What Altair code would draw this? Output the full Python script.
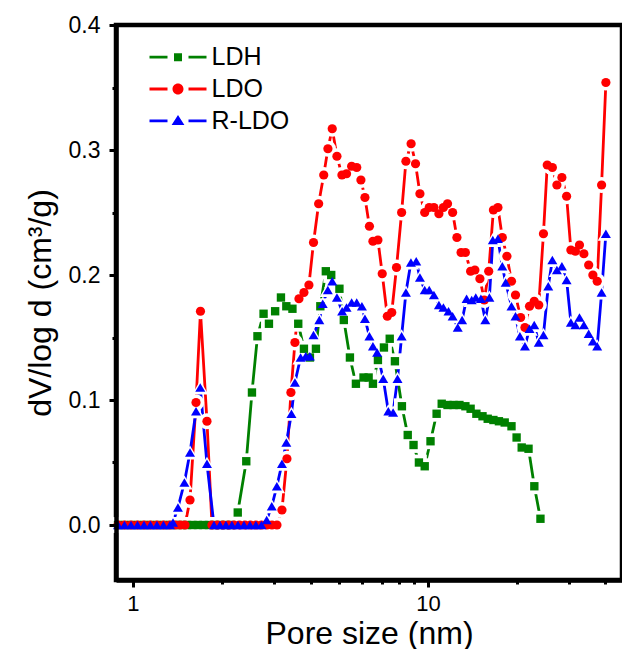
import altair as alt
import pandas as pd

series_names = ["LDH", "LDO", "R-LDO"]
series_colors = ["#008000", "#ff0000", "#0000ff"]
marker_shapes = ["square", "circle", "triangle-up"]

x_ticks = [1, 2, 3, 4, 5, 6, 7, 8, 9, 10, 20, 30, 40]
y_ticks = [0.0, 0.05, 0.1, 0.15, 0.2, 0.25, 0.3, 0.35, 0.4]

ldh_x = [0.890, 0.936, 0.985, 1.036, 1.090, 1.146, 1.206, 1.269, 1.335, 1.399, 1.460, 1.525,
         1.591, 1.661, 1.734, 1.810, 1.889, 1.972, 2.059, 2.149, 2.266, 2.422, 2.532, 2.643,
         2.772, 2.891, 3.034, 3.175, 3.311, 3.473, 3.634, 3.799, 3.981, 4.172, 4.318, 4.507,
         4.701, 5.012, 5.187, 5.440, 5.700, 6.049, 6.295, 6.510, 6.769, 7.094, 7.422, 7.729,
         8.163, 8.542, 8.938, 9.322, 9.753, 10.205, 10.703, 11.137, 11.654, 12.222, 12.788,
         13.399, 13.956, 14.598, 15.314, 15.948, 16.674, 17.406, 18.210, 19.203, 19.984,
         20.795, 21.933, 22.95, 24.074]
ldh_y = [0, 0, 0, 0, 0, 0, 0, 0, 0, 0, 0, 0,
         0, 0, 0, 0, 0, 0, 0, 0, 0.010, 0.051, 0.106, 0.151,
         0.169, 0.161, 0.171, 0.182, 0.175, 0.173, 0.161, 0.141, 0.134, 0.141, 0.175, 0.203,
         0.200, 0.189, 0.164, 0.134, 0.113, 0.118, 0.118, 0.113, 0.132, 0.142, 0.149, 0.131,
         0.095, 0.072, 0.064, 0.050, 0.047, 0.067, 0.089, 0.097, 0.096, 0.096, 0.096,
         0.095, 0.093, 0.089, 0.087, 0.085, 0.084, 0.083, 0.082, 0.079, 0.070,
         0.062, 0.061, 0.031, 0.005]

ldo_x = [0.890, 0.936, 0.985, 1.036, 1.090, 1.146, 1.206, 1.269, 1.335, 1.394, 1.449, 1.501,
         1.561, 1.636, 1.694, 1.782, 1.853, 1.934, 2.019, 2.108, 2.200, 2.297, 2.397, 2.502,
         2.612, 2.727, 2.846, 2.960, 3.077, 3.200, 3.327, 3.432, 3.541, 3.654, 3.799, 3.950,
         4.094, 4.261, 4.434, 4.581, 4.738, 4.915, 5.111, 5.298, 5.513, 5.736, 5.927, 6.116,
         6.334, 6.510, 6.769, 7.000, 7.284, 7.539, 7.826, 8.144, 8.422, 8.771, 9.078, 9.395,
         9.753, 10.102, 10.480, 10.896, 11.286, 11.654, 12.127, 12.541, 12.957, 13.399,
         13.956, 14.428, 15.006, 15.531, 16.073, 16.674, 17.271, 17.872, 18.526, 19.203,
         19.813, 20.618, 21.326, 22.105, 22.931, 23.757, 24.644, 25.386, 26.416, 27.37,
         28.46, 29.525, 30.53, 31.623, 32.65, 33.79, 35.08, 36.25, 37.49, 38.80, 40.12]
ldo_y = [0, 0, 0, 0, 0, 0, 0, 0, 0, 0, 0, 0,
         0.020, 0.098, 0.171, 0.083, 0, 0, 0, 0, 0, 0, 0, 0,
         0, 0, 0, 0, 0, 0.012, 0.053, 0.106, 0.146, 0.181, 0.186, 0.192,
         0.226, 0.257, 0.280, 0.301, 0.317, 0.295, 0.280, 0.281, 0.287, 0.286, 0.276, 0.262,
         0.239, 0.227, 0.228, 0.201, 0.167, 0.170, 0.206, 0.250, 0.291, 0.305, 0.289, 0.265,
         0.250, 0.254, 0.254, 0.249, 0.254, 0.257, 0.250, 0.230, 0.218, 0.218,
         0.203, 0.204, 0.197, 0.180, 0.203, 0.252, 0.254, 0.230, 0.215, 0.195,
         0.184, 0.166, 0.158, 0.175, 0.179, 0.176, 0.233, 0.288, 0.286, 0.272,
         0.278, 0.263, 0.220, 0.219, 0.224, 0.217, 0.208, 0.200, 0.195, 0.272, 0.354]

rldo_x = [0.890, 0.936, 0.985, 1.036, 1.090, 1.146, 1.206, 1.269, 1.335, 1.367, 1.421, 1.494,
          1.561, 1.636, 1.691, 1.782, 1.882, 1.972, 2.067, 2.166, 2.270, 2.379, 2.493, 2.612,
          2.727, 2.840, 2.955, 3.075, 3.200, 3.311, 3.446, 3.541, 3.702, 3.853, 3.978, 4.094,
          4.284, 4.399, 4.578, 4.738, 4.915, 5.119, 5.298, 5.513, 5.736, 5.974, 6.116, 6.334,
          6.510, 6.727, 7.055, 7.341, 7.621, 7.888, 8.144, 8.422, 8.757, 9.128, 9.395, 9.753,
          10.102, 10.480, 10.896, 11.286, 11.745, 12.127, 12.620, 13.058, 13.525, 14.076,
          14.530, 15.124, 15.652, 16.161, 16.596, 17.271, 17.872, 18.353, 19.203, 19.813,
          20.505, 21.326, 22.105, 22.931, 23.757, 24.644, 25.585, 26.416, 27.37, 28.46,
          29.525, 30.53, 31.623, 32.65, 33.79, 35.08, 36.25, 37.49, 38.80, 40.12]
rldo_y = [0, 0, 0, 0, 0, 0, 0, 0, 0, 0.002, 0.014, 0.034,
          0.058, 0.091, 0.110, 0.049, 0, 0, 0, 0, 0, 0, 0, 0,
          0, 0.004, 0.015, 0.031, 0.049, 0.066, 0.089, 0.114, 0.134, 0.135, 0.135, 0.152,
          0.164, 0.177, 0.188, 0.195, 0.182, 0.171, 0.174, 0.178, 0.178, 0.175, 0.165, 0.151,
          0.143, 0.138, 0.117, 0.091, 0.090, 0.117, 0.151, 0.186, 0.210, 0.211, 0.198, 0.188,
          0.188, 0.184, 0.176, 0.174, 0.171, 0.167, 0.158, 0.164, 0.181, 0.180,
          0.182, 0.181, 0.164, 0.182, 0.228, 0.229, 0.207, 0.194, 0.175, 0.167,
          0.151, 0.143, 0.157, 0.160, 0.146, 0.152, 0.191, 0.212, 0.204, 0.207,
          0.196, 0.162, 0.160, 0.166, 0.160, 0.153, 0.147, 0.143, 0.186, 0.233]

rows = []
for name, xs, ys in zip(series_names, [ldh_x, ldo_x, rldo_x], [ldh_y, ldo_y, rldo_y]):
    for i, (a, b) in enumerate(zip(xs, ys)):
        rows.append({"series": name, "pore": a, "dv": b, "idx": i})
df = pd.DataFrame(rows)

FONT = "Liberation Sans"

x_enc = alt.X(
    "pore:Q",
    title="Pore size (nm)",
    scale=alt.Scale(type="log", domain=[0.876, 45.5], nice=False),
    axis=alt.Axis(
        values=x_ticks,
        labelExpr="(datum.value == 1 || datum.value == 10) ? format(datum.value, 'd') : ''",
        tickSize={"condition": {"test": "datum.value == 1 || datum.value == 10", "value": 7}, "value": 4},
        tickWidth=3, tickColor="black", domainColor="black", domainWidth=4.5, grid=False,
        labelFont=FONT, labelFontSize=22, labelColor="black", labelPadding=6,
        labelOverlap=False, labelFlush=False,
        titleFont=FONT, titleFontSize=32, titleFontWeight="normal", titleColor="black",
        titlePadding=4, zindex=2,
    ),
)
y_enc = alt.Y(
    "dv:Q",
    title="dV/log d (cm³/g)",
    scale=alt.Scale(domain=[-0.044, 0.4], nice=False, zero=False),
    axis=alt.Axis(
        values=y_ticks,
        labelExpr="abs(datum.value*10 - round(datum.value*10)) < 0.001 ? format(datum.value, '.1f') : ''",
        tickSize={"condition": {"test": "abs(datum.value*10 - round(datum.value*10)) < 0.001", "value": 7}, "value": 4},
        tickWidth=3, tickColor="black", domainColor="black", domainWidth=4.5, grid=False,
        labelFont=FONT, labelFontSize=23, labelColor="black", labelPadding=9,
        labelOverlap=False, labelFlush=False,
        titleFont=FONT, titleFontSize=32, titleFontWeight="normal", titleColor="black",
        titlePadding=11, zindex=2,
    ),
)

color_scale = alt.Scale(domain=series_names, range=series_colors)
shape_scale = alt.Scale(domain=series_names, range=marker_shapes)

lines = alt.Chart(df).mark_line(strokeWidth=2.8).encode(
    x=x_enc, y=y_enc,
    color=alt.Color("series:N", scale=color_scale, legend=None),
    order="idx:Q",
)

halos = alt.Chart(df).mark_point(filled=True, color="white", opacity=1, strokeWidth=0).encode(
    x=x_enc, y=y_enc,
    shape=alt.Shape("series:N", scale=shape_scale, legend=None),
    size=alt.Size("series:N", scale=alt.Scale(domain=series_names, range=[250, 270, 400]), legend=None),
)

points = alt.Chart(df).mark_point(filled=True, opacity=1, strokeWidth=0).encode(
    x=x_enc, y=y_enc,
    color=alt.Color("series:N", scale=color_scale, legend=None),
    shape=alt.Shape("series:N", scale=shape_scale, legend=None),
    size=alt.Size("series:N", scale=alt.Scale(domain=series_names, range=[70, 100, 140]), legend=None),
)

dash_part = "M-2.85,-0.14H-1.05V0.14H-2.85Z M1.05,-0.14H2.85V0.14H1.05Z "
legend_paths = [
    dash_part + "M-0.4,-0.4H0.4V0.4H-0.4Z",
    dash_part + "M-0.55,0A0.55,0.55 0 1,0 0.55,0A0.55,0.55 0 1,0 -0.55,0Z",
    dash_part + "M0,-0.58L0.64,0.42L-0.64,0.42Z",
]

leg = alt.Legend(
    title=None, orient="none", legendX=49.5, legendY=19.7,
    symbolSize=400, symbolStrokeWidth=0, symbolOpacity=1,
    labelFont=FONT, labelFontSize=25, labelColor="black", labelOffset=21,
    rowPadding=5.8, padding=0, labelLimit=300,
)

legend_layer = alt.Chart(df).mark_point(filled=True, opacity=1).transform_filter("false").encode(
    x=x_enc, y=y_enc,
    color=alt.Color("series:N", scale=alt.Scale(domain=series_names, range=series_colors), legend=leg),
    shape=alt.Shape("series:N", scale=alt.Scale(domain=series_names, range=legend_paths), legend=leg),
)

chart = alt.layer(lines, halos, points, legend_layer).resolve_scale(
    color="independent", shape="independent", size="independent"
).properties(
    width=506, height=555,
    autosize=alt.AutoSizeParams(type="none"),
    padding={"left": 108, "top": 17, "right": 0, "bottom": 69},
).configure_view(stroke="black", strokeWidth=4.5)

chart.save("out.html", embed_options={"renderer": "svg", "actions": False})
